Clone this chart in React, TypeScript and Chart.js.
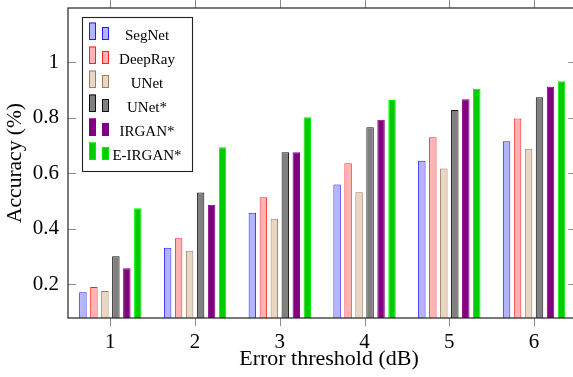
import React, { useEffect, useRef } from "react";
import { Chart, registerables } from "chart.js";

Chart.register(...registerables);

const categories = ["1", "2", "3", "4", "5", "6"];
const yTickValues = [0.2, 0.4, 0.6, 0.8, 1];
const seriesNames = ["SegNet", "DeepRay", "UNet", "UNet*", "IRGAN*", "E-IRGAN*"];
const segnet = [0.17, 0.331, 0.457, 0.559, 0.644, 0.715];
const deepray = [0.189, 0.365, 0.513, 0.635, 0.729, 0.797];
const unet = [0.175, 0.32, 0.435, 0.531, 0.616, 0.688];
const unetStar = [0.3, 0.53, 0.675, 0.765, 0.827, 0.873];
const irgan = [0.257, 0.486, 0.675, 0.792, 0.866, 0.911];
const eirgan = [0.473, 0.693, 0.801, 0.863, 0.904, 0.931];

const fills = ["#b3b3ff", "#ffb3b3", "#ead7c3", "#808080", "#800080", "#00cc00"];
const borders = ["#2020ff", "#ff2020", "#9c7c5c", "#111111", "#800080", "#00ee00"];

const FONT = "'Liberation Serif', 'Times New Roman', serif";

const framePlugin = {
  id: "frame",
  afterDraw(chart: any) {
    const { ctx, chartArea } = chart;
    const { left, right, top, bottom } = chartArea;
    const xs = chart.scales.x;
    const ys = chart.scales.y;
    ctx.save();
    // ticks
    ctx.strokeStyle = "#8a8a8a";
    ctx.lineWidth = 1;
    ctx.beginPath();
    categories.forEach((_, i) => {
      const x = Math.round(xs.getPixelForValue(i)) + 0.5;
      ctx.moveTo(x, bottom);
      ctx.lineTo(x, bottom + 8);
      ctx.moveTo(x, top);
      ctx.lineTo(x, top - 8);
    });
    yTickValues.forEach((v) => {
      const y = Math.round(ys.getPixelForValue(v)) + 0.5;
      ctx.moveTo(left, y);
      ctx.lineTo(left + 8, y);
      ctx.moveTo(right, y);
      ctx.lineTo(right - 8, y);
    });
    ctx.stroke();
    // frame
    ctx.strokeStyle = "#222222";
    ctx.lineWidth = 1.2;
    ctx.strokeRect(left, top, right - left, bottom - top);

    // legend
    ctx.fillStyle = "#ffffff";
    ctx.fillRect(82.5, 17.5, 110, 154);
    ctx.strokeStyle = "#222222";
    ctx.lineWidth = 1.1;
    ctx.strokeRect(82.5, 17.5, 110, 154);
    chart.data.datasets.forEach((ds: any, i: number) => {
      const base = 40 + 24 * i;
      ctx.fillStyle = ds.backgroundColor;
      ctx.strokeStyle = ds.borderColor;
      ctx.lineWidth = 1;
      ctx.fillRect(89, base - 17.5, 7, 17.5);
      ctx.strokeRect(89.5, base - 17, 6, 16.5);
      ctx.fillRect(102, base - 13, 7, 13);
      ctx.strokeRect(102.5, base - 12.5, 6, 12);
      ctx.fillStyle = "#000000";
      ctx.font = `15px ${FONT}`;
      ctx.textAlign = "center";
      ctx.textBaseline = "alphabetic";
      ctx.fillText(ds.label, 147, base - 0.5);
    });

    // axis titles
    ctx.fillStyle = "#000000";
    ctx.font = `22px ${FONT}`;
    ctx.textAlign = "center";
    ctx.textBaseline = "alphabetic";
    ctx.fillText("Error threshold (dB)", 329, 365);
    ctx.save();
    ctx.translate(21, (top + bottom) / 2);
    ctx.rotate(-Math.PI / 2);
    ctx.font = `21.5px ${FONT}`;
    ctx.fillText("Accuracy (%)", 0, 0);
    ctx.restore();
    ctx.restore();
  },
};

export default function App() {
  const ref = useRef<HTMLCanvasElement | null>(null);
  useEffect(() => {
    if (!ref.current) return;
    const values = [segnet, deepray, unet, unetStar, irgan, eirgan];
    const chart = new Chart(ref.current, {
      type: "bar",
      data: {
        labels: categories,
        datasets: values.map((d, i) => ({
          label: seriesNames[i],
          data: d,
          backgroundColor: fills[i],
          borderColor: borders[i],
          borderWidth: 1,
          categoryPercentage: 0.778,
          barPercentage: 0.68,
        })),
      },
      options: {
        animation: false,
        responsive: false,
        devicePixelRatio: 1,
        layout: { padding: { left: 0, right: 3.6, top: 8, bottom: 0 } },
        plugins: { legend: { display: false }, tooltip: { enabled: false } },
        scales: {
          x: {
            grid: { display: false, drawTicks: false },
            border: { display: false },
            ticks: { color: "#000", font: { family: FONT, size: 21 }, padding: 12 },
            afterFit: (s: any) => {
              s.height = 59;
              s.paddingLeft = 0;
              s.paddingRight = 0;
            },
          },
          y: {
            min: 0.0775,
            max: 1.195,
            grid: { display: false, drawTicks: false },
            border: { display: false },
            afterBuildTicks: (s: any) => {
              s.ticks = yTickValues.map((v) => ({ value: v }));
            },
            ticks: {
              color: "#000",
              font: { family: FONT, size: 21 },
              padding: 9,
              callback: (v: any) => String(Number(Number(v).toFixed(1))),
            },
            afterFit: (s: any) => {
              s.width = 68;
              s.paddingTop = 0;
              s.paddingBottom = 0;
            },
          },
        },
      },
      plugins: [framePlugin],
    });
    return () => chart.destroy();
  }, []);
  return (
    <div style={{ position: "fixed", left: 0, top: 0, width: 573, height: 377, overflow: "hidden", background: "#fff" }}>
      <canvas ref={ref} width={580} height={377} style={{ width: 580, height: 377, display: "block" }} />
    </div>
  );
}
